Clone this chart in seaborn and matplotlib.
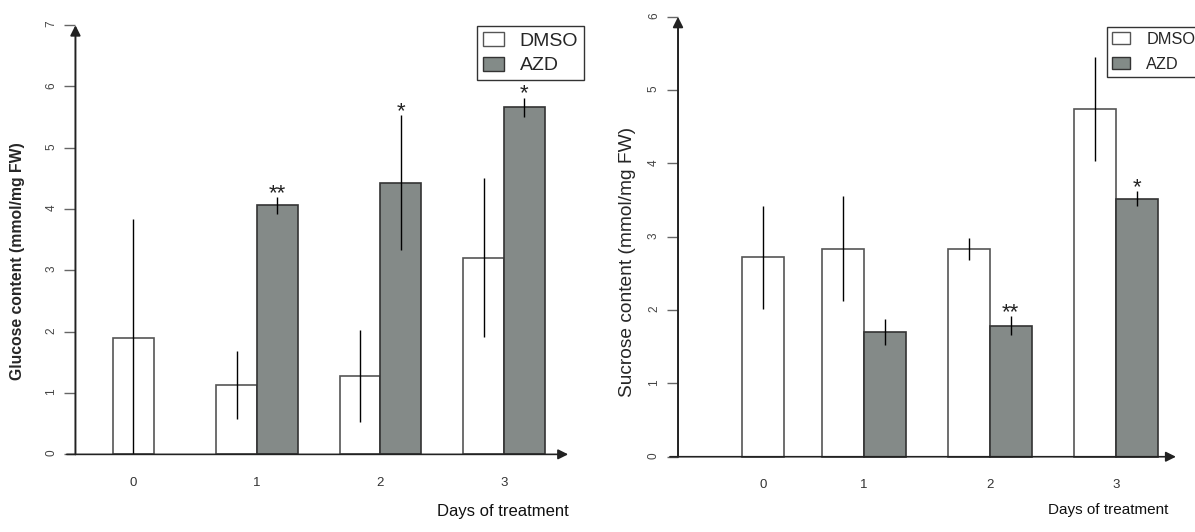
import numpy as np
import pandas as pd
import seaborn as sns
import matplotlib.pyplot as plt
from matplotlib.patches import Patch

# data
days = ['0', '1', '2', '3']
azd_days = ['1', '2', '3']
treatments = ['DMSO', 'AZD']

glucose_dmso = [1.89, 1.13, 1.28, 3.21]
glucose_dmso_err = [1.95, 0.56, 0.75, 1.29]
glucose_azd = [4.06, 4.43, 5.66]
glucose_azd_err = [0.14, 1.10, 0.16]
glucose_stars = ['**', '*', '*']
glucose_ticks = [0, 1, 2, 3, 4, 5, 6, 7]

sucrose_dmso = [2.72, 2.84, 2.83, 4.74]
sucrose_dmso_err = [0.70, 0.71, 0.15, 0.71]
sucrose_azd = [1.70, 1.79, 3.52]
sucrose_azd_err = [0.18, 0.13, 0.10]
sucrose_stars = ['', '**', '*']
sucrose_ticks = [0, 1, 2, 3, 4, 5, 6]

sns.set_style('white')
plt.rcParams['font.family'] = ['Liberation Sans', 'DejaVu Sans']

colors = {'DMSO': 'white', 'AZD': '#838b88'}
edges = {'DMSO': '#555555', 'AZD': '#333333'}


def make_frame(dmso, dmso_err, azd, azd_err):
    return pd.DataFrame({
        'day': days + azd_days,
        'treatment': ['DMSO'] * len(days) + ['AZD'] * len(azd_days),
        'value': dmso + azd,
        'err': dmso_err + azd_err,
    })


def draw_panel(ax, df, stars, ticks, day0_shift, yaxis_x, xaxis_span, ylabel, ylabel_font, ylabel_pos,
               xlabel_size, xlabel_pos, legend_size, legend_anchor, textpad, labelspacing):
    sns.barplot(data=df, x='day', y='value', hue='treatment', order=days, hue_order=treatments,
                palette=colors, width=0.66, errorbar=None, legend=False, ax=ax,
                linewidth=1.2)
    top = ticks[-1]
    for cont, name in zip(ax.containers, treatments):
        sub = df[df['treatment'] == name].reset_index(drop=True)
        for i, p in enumerate(cont.patches):
            p.set_edgecolor(edges[name])
            if name == 'DMSO' and i == 0:
                # day 0 has no AZD bar, shift it over
                p.set_x(p.get_x() + day0_shift)
        xs = [p.get_x() + p.get_width() / 2 for p in cont.patches]
        lo = [min(e, v) for e, v in zip(sub['err'], sub['value'])]
        ax.errorbar(xs, sub['value'], yerr=[lo, sub['err']], fmt='none', ecolor='black',
                    elinewidth=1, capsize=0)
        if name == 'DMSO':
            day0_x = xs[0]
        else:
            for x, v, e, s in zip(xs, sub['value'], sub['err'], stars):
                if s:
                    ax.annotate(s, (x, v + e), xytext=(0, -1.5), textcoords='offset points',
                                ha='center', va='baseline', fontsize=16, color='#222222')

    ax.set_xlim(-0.6, 3.6)
    ax.set_ylim(-0.2, top + 0.2)
    ax.set_xticks([day0_x, 1, 2, 3])
    ax.set_xticklabels(days)
    ax.set_yticks(ticks)
    ax.set_yticklabels([str(t) for t in ticks])

    ax.spines['left'].set_position(('data', yaxis_x))
    ax.spines['bottom'].set_position(('data', 0))
    for s in ax.spines.values():
        s.set_color('none')
    ax.tick_params(axis='y', left=True, length=8, width=1, color='#666666', direction='out',
                   pad=5, labelrotation=90, labelsize=8.5, labelcolor='#444444')
    ax.tick_params(axis='x', length=0, pad=16, labelsize=9.5, labelcolor='#333333')

    ax.annotate('', xy=(yaxis_x, top), xytext=(yaxis_x, 0),
                arrowprops=dict(arrowstyle='-|>', color='#222222', lw=1.4, mutation_scale=15,
                                shrinkA=0, shrinkB=0))
    ax.annotate('', xy=(xaxis_span[1], 0), xytext=(xaxis_span[0], 0),
                arrowprops=dict(arrowstyle='-|>', color='#222222', lw=1.2, mutation_scale=15,
                                shrinkA=0, shrinkB=0))

    ax.set_ylabel(ylabel, **ylabel_font)
    ax.yaxis.set_label_coords(*ylabel_pos)
    ax.yaxis.label.set_va('center')
    ax.set_xlabel('Days of treatment', fontsize=xlabel_size, color='#111111')
    ax.xaxis.set_label_coords(*xlabel_pos)
    ax.xaxis.label.set_va('center')

    handles = [Patch(facecolor=colors[t], edgecolor=edges[t], linewidth=1) for t in treatments]
    leg = ax.legend(handles, treatments, loc='upper left', bbox_to_anchor=legend_anchor,
                    bbox_transform=ax.figure.transFigure, frameon=True, fancybox=False,
                    edgecolor='#333333', framealpha=1, borderaxespad=0, borderpad=0.3,
                    handlelength=1.1, handleheight=0.75, handletextpad=textpad,
                    labelspacing=labelspacing, fontsize=legend_size)
    leg.get_frame().set_linewidth(1)


fig = plt.figure(figsize=(11.95, 5.32), dpi=100)
ax1 = fig.add_axes([0.0497, 0.1229, 0.434, 0.8528])
ax2 = fig.add_axes([0.5543, 0.1139, 0.4428, 0.882])

draw_panel(ax1, make_frame(glucose_dmso, glucose_dmso_err, glucose_azd, glucose_azd_err),
           glucose_stars, glucose_ticks, 0.165, -0.47, (-0.54, 3.52),
           'Glucose content (mmol/mg FW)', dict(fontsize=11.3, fontweight='bold'), (-0.08, 0.452),
           12, (0.855, -0.10), 14, (477 / 1195, 1 - 26 / 532), 0.8, 0.35)

draw_panel(ax2, make_frame(sucrose_dmso, sucrose_dmso_err, sucrose_azd, sucrose_azd_err),
           sucrose_stars, sucrose_ticks, 0.363, -0.476, (-0.54, 3.476),
           'Sucrose content (mmol/mg FW)', dict(fontsize=13.8), (-0.065, 0.446),
           11, (0.842, -0.082), 11.8, (1107 / 1195, 1 - 27 / 532), 1.0, 0.6)

fig.savefig('out.png', dpi=100)
